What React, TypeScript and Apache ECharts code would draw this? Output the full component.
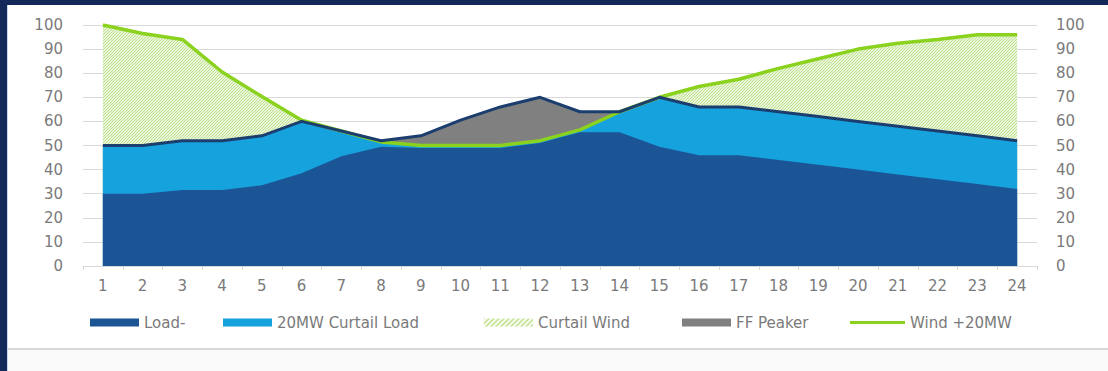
import React, { useEffect, useRef } from "react";
import * as echarts from "echarts";

const hours = ["1","2","3","4","5","6","7","8","9","10","11","12","13","14","15","16","17","18","19","20","21","22","23","24"];
const loadValues = [30, 30, 31.5, 31.5, 33.5, 38.5, 45.5, 49.5, 49, 49, 49, 51, 55.5, 55.5, 49.5, 46, 46, 44, 42, 40, 38, 36, 34, 32];
const totalValues = [50, 50, 52, 52, 54, 60, 56, 52, 54, 60.5, 66, 70, 64, 64, 70, 66, 66, 64, 62, 60, 58, 56, 54, 52];
const windValues = [100, 96.5, 94, 80.5, 70.3, 60.5, 56, 51.5, 50, 50, 50, 52, 56.5, 64, 70, 74.5, 77.5, 82, 86, 90, 92.4, 94, 96, 96];
const yTicks = { min: 0, max: 100, interval: 10 };

const C_LOAD = "#1c5596";
const C_CURTAIL = "#15a2dd";
const C_PEAKER = "#808080";
const C_NAVY = "#1b3e6e";
const C_WIND = "#8ad21e";
const C_TEXT = "#7a7a7a";
const C_GRID = "#d9d9d9";

function makePattern(bg: string, fg: string, size: number, lw: number) {
  const c = document.createElement("canvas");
  c.width = size;
  c.height = size;
  const ctx = c.getContext("2d")!;
  ctx.fillStyle = bg;
  ctx.fillRect(0, 0, size, size);
  ctx.strokeStyle = fg;
  ctx.lineWidth = lw;
  ctx.beginPath();
  ctx.moveTo(-1, size + 1);
  ctx.lineTo(size + 1, -1);
  ctx.moveTo(-1, 1);
  ctx.lineTo(1, -1);
  ctx.moveTo(size - 1, size + 1);
  ctx.lineTo(size + 1, size - 1);
  ctx.stroke();
  return c;
}

export default function App() {
  const ref = useRef<HTMLDivElement>(null);
  useEffect(() => {
    if (!ref.current) return;
    const chart = echarts.init(ref.current, null, { renderer: "svg" });
    const areaPattern = { image: makePattern("#e9f5d8", "#bfe08d", 3, 1), repeat: "repeat" as const };
    const legendPattern = { image: makePattern("#ffffff", "#bfe08a", 5, 1.6), repeat: "repeat" as const };
    const servedValues = totalValues.map((t, i) => Math.min(t, windValues[i]));
    const font = "'DejaVu Sans', sans-serif";
    const legendBase = {
      top: 315,
      icon: "rect",
      itemWidth: 49,
      itemHeight: 8,
      textStyle: { color: C_TEXT, fontSize: 15, fontFamily: font },
      selectedMode: false as const,
      padding: 0,
    };
    const areaSeries = (name: string, data: number[], color: any) => ({
      name,
      type: "line",
      data,
      symbol: "none",
      showSymbol: false,
      color,
      lineStyle: { width: 0 },
      areaStyle: { color, opacity: 1 },
      emphasis: { disabled: true },
      silent: true,
    });
    chart.setOption({
      animation: false,
      backgroundColor: "transparent",
      grid: { left: 83, right: 71, top: 25, bottom: 105 },
      xAxis: {
        type: "category",
        data: hours,
        boundaryGap: true,
        axisLine: { lineStyle: { color: C_GRID, width: 1 } },
        axisTick: { show: true, length: 4, lineStyle: { color: C_GRID } },
        axisLabel: { color: C_TEXT, fontSize: 15, fontFamily: font, margin: 12, interval: 0 },
      },
      yAxis: [
        {
          type: "value",
          ...yTicks,
          axisLine: { show: false },
          axisTick: { show: false },
          splitLine: { lineStyle: { color: C_GRID, width: 1 } },
          axisLabel: { color: C_TEXT, fontSize: 15, fontFamily: font, margin: 20 },
        },
        {
          type: "value",
          position: "right",
          ...yTicks,
          axisLine: { show: false },
          axisTick: { show: false },
          splitLine: { show: false },
          axisLabel: { color: C_TEXT, fontSize: 15, fontFamily: font, margin: 19 },
        },
      ],
      legend: [
        { ...legendBase, left: 90, data: [{ name: "Load-", itemStyle: { color: C_LOAD, borderWidth: 0 } }] },
        { ...legendBase, left: 223, data: [{ name: "20MW Curtail Load", itemStyle: { color: C_CURTAIL, borderWidth: 0 } }] },
        { ...legendBase, left: 484, data: [{ name: "Curtail Wind", itemStyle: { color: legendPattern, borderWidth: 0 } }] },
        { ...legendBase, left: 682, data: [{ name: "FF Peaker", itemStyle: { color: C_PEAKER, borderWidth: 0 } }] },
        { ...legendBase, left: 850, itemWidth: 55, itemHeight: 3, data: [{ name: "Wind +20MW", itemStyle: { color: C_WIND, borderWidth: 0 } }] },
      ],
      series: [
        areaSeries("Curtail Wind", windValues, areaPattern),
        areaSeries("FF Peaker", totalValues, C_PEAKER),
        areaSeries("20MW Curtail Load", servedValues, C_CURTAIL),
        areaSeries("Load-", loadValues, C_LOAD),
        {
          name: "Wind +20MW",
          type: "line",
          data: windValues,
          symbol: "none",
          color: C_WIND,
          lineStyle: { color: C_WIND, width: 3.5 },
          silent: true,
        },
        {
          name: "Total",
          type: "line",
          data: totalValues,
          symbol: "none",
          color: C_NAVY,
          lineStyle: { color: C_NAVY, width: 3 },
          silent: true,
        },
      ],
    });
    return () => chart.dispose();
  }, []);

  return (
    <div style={{ position: "fixed", left: 0, top: 0, width: 1108, height: 371, background: "#ffffff", overflow: "hidden" }}>
      <div style={{ position: "absolute", left: 0, top: 348, width: 1108, height: 23, background: "#fafafa", borderTop: "2px solid #d8d8d8" }} />
      <div style={{ position: "absolute", left: 0, top: 0, width: 1108, height: 5, background: "#14295a" }} />
      <div style={{ position: "absolute", left: 0, top: 0, width: 7, height: 371, background: "#14295a" }} />
      <div style={{ position: "absolute", left: 7, top: 5, width: 1, height: 366, background: "#c9d7ee" }} />
      <div ref={ref} style={{ position: "absolute", left: 0, top: 0, width: 1108, height: 371 }} />
    </div>
  );
}
